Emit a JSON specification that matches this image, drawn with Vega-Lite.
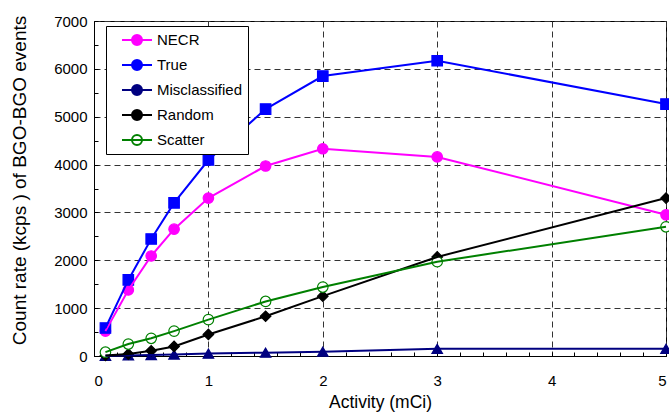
{
  "$schema": "https://vega.github.io/schema/vega-lite/v6.json",
  "width": 572,
  "height": 335,
  "autosize": {"type": "none"},
  "padding": {"left": 94, "top": 21, "right": 3, "bottom": 56},
  "background": "white",
  "config": {
    "font": "Liberation Sans",
    "view": {"stroke": "black", "strokeWidth": 1},
    "axis": {
      "domainColor": "black",
      "tickColor": "black",
      "tickSize": -4,
      "labelColor": "black",
      "titleColor": "black",
      "labelFontSize": 15,
      "titleFontWeight": "normal",
      "gridColor": "#333333",
      "gridDash": [6, 4],
      "gridWidth": 1
    },
    "legend": {
      "orient": "none",
      "legendX": 12,
      "legendY": 5,
      "padding": 5,
      "strokeColor": "black",
      "fillColor": "white",
      "labelFontSize": 15,
      "labelColor": "black",
      "symbolSize": 256,
      "symbolStrokeWidth": 2,
      "rowPadding": 7,
      "labelOffset": 28
    }
  },
  "data": {
    "values": [
      {"activity": 0.1, "series": "NECR", "rate": 520},
      {"activity": 0.3, "series": "NECR", "rate": 1380},
      {"activity": 0.5, "series": "NECR", "rate": 2090},
      {"activity": 0.7, "series": "NECR", "rate": 2650},
      {"activity": 1.0, "series": "NECR", "rate": 3300},
      {"activity": 1.5, "series": "NECR", "rate": 3970},
      {"activity": 2.0, "series": "NECR", "rate": 4330},
      {"activity": 3.0, "series": "NECR", "rate": 4160},
      {"activity": 5.0, "series": "NECR", "rate": 2950},
      {"activity": 0.1, "series": "True", "rate": 585},
      {"activity": 0.3, "series": "True", "rate": 1590},
      {"activity": 0.5, "series": "True", "rate": 2445},
      {"activity": 0.7, "series": "True", "rate": 3200},
      {"activity": 1.0, "series": "True", "rate": 4095},
      {"activity": 1.5, "series": "True", "rate": 5160},
      {"activity": 2.0, "series": "True", "rate": 5850},
      {"activity": 3.0, "series": "True", "rate": 6170},
      {"activity": 5.0, "series": "True", "rate": 5265},
      {"activity": 0.1, "series": "Misclassified", "rate": 5},
      {"activity": 0.3, "series": "Misclassified", "rate": 12},
      {"activity": 0.5, "series": "Misclassified", "rate": 20},
      {"activity": 0.7, "series": "Misclassified", "rate": 30},
      {"activity": 1.0, "series": "Misclassified", "rate": 50},
      {"activity": 1.5, "series": "Misclassified", "rate": 70},
      {"activity": 2.0, "series": "Misclassified", "rate": 90},
      {"activity": 3.0, "series": "Misclassified", "rate": 150},
      {"activity": 5.0, "series": "Misclassified", "rate": 150},
      {"activity": 0.1, "series": "Random", "rate": 10},
      {"activity": 0.3, "series": "Random", "rate": 40},
      {"activity": 0.5, "series": "Random", "rate": 110},
      {"activity": 0.7, "series": "Random", "rate": 200},
      {"activity": 1.0, "series": "Random", "rate": 450},
      {"activity": 1.5, "series": "Random", "rate": 830},
      {"activity": 2.0, "series": "Random", "rate": 1250},
      {"activity": 3.0, "series": "Random", "rate": 2070},
      {"activity": 5.0, "series": "Random", "rate": 3300},
      {"activity": 0.1, "series": "Scatter", "rate": 80},
      {"activity": 0.3, "series": "Scatter", "rate": 250},
      {"activity": 0.5, "series": "Scatter", "rate": 370},
      {"activity": 0.7, "series": "Scatter", "rate": 520},
      {"activity": 1.0, "series": "Scatter", "rate": 760},
      {"activity": 1.5, "series": "Scatter", "rate": 1140},
      {"activity": 2.0, "series": "Scatter", "rate": 1440},
      {"activity": 3.0, "series": "Scatter", "rate": 1970},
      {"activity": 5.0, "series": "Scatter", "rate": 2700}
    ]
  },
  "encoding": {
    "x": {
      "field": "activity",
      "type": "quantitative",
      "title": "Activity (mCi)",
      "scale": {"domain": [0, 5], "nice": false, "zero": false},
      "axis": {
        "values": [0, 0.2, 0.4, 0.6, 0.8, 1, 1.2, 1.4, 1.6, 1.8, 2, 2.2, 2.4, 2.6, 2.8, 3, 3.2, 3.4, 3.6, 3.8, 4, 4.2, 4.4, 4.6, 4.8, 5],
        "labelExpr": "abs(datum.value - round(datum.value)) < 0.001 ? format(datum.value, 'd') : ''",
        "grid": true,
        "gridOpacity": {"condition": {"test": "abs(datum.value - round(datum.value)) < 0.001", "value": 1}, "value": 0},
        "labelPadding": 21,
        "titlePadding": 5,
        "titleFontSize": 17.5
      }
    },
    "y": {
      "field": "rate",
      "type": "quantitative",
      "title": "Count rate (kcps ) of BGO-BGO events",
      "scale": {"domain": [0, 7000], "nice": false},
      "axis": {
        "values": [0, 500, 1000, 1500, 2000, 2500, 3000, 3500, 4000, 4500, 5000, 5500, 6000, 6500, 7000],
        "labelExpr": "datum.value % 1000 === 0 ? format(datum.value, 'd') : ''",
        "grid": true,
        "gridOpacity": {"condition": {"test": "datum.value % 1000 === 0", "value": 1}, "value": 0},
        "labelPadding": 11,
        "titlePadding": 24,
        "titleFontSize": 19,
        "titleY": 159
      }
    }
  },
  "layer": [
    {
      "mark": {
        "type": "point",
        "filled": false,
        "opacity": 1,
        "strokeWidth": 1.2,
        "size": 110,
        "shape": {"expr": "datum.series === 'True' ? 'square' : datum.series === 'Misclassified' ? 'triangle-up' : datum.series === 'Random' ? 'diamond' : 'circle'"}
      },
      "encoding": {
        "stroke": {
          "field": "series",
          "type": "nominal",
          "scale": {"domain": ["NECR", "True", "Misclassified", "Random", "Scatter"], "range": ["#ff00ff", "#0000ff", "#000080", "#000000", "#008000"]},
          "legend": {
            "title": null,
            "symbolType": "M0.25,0H4M1.5,0A0.625,0.625 0 1,0 2.75,0A0.625,0.625 0 1,0 1.5,0"
          }
        },
        "fill": {
          "field": "series",
          "type": "nominal",
          "scale": {"domain": ["NECR", "True", "Misclassified", "Random", "Scatter"], "range": ["#ff00ff", "#0000ff", "#000080", "#000000", "#ffffff"]},
          "legend": {"title": null}
        }
      }
    },
    {
      "mark": {"type": "line", "strokeWidth": 2},
      "encoding": {
        "stroke": {
          "field": "series",
          "type": "nominal",
          "scale": {"domain": ["NECR", "True", "Misclassified", "Random", "Scatter"], "range": ["#ff00ff", "#0000ff", "#000080", "#000000", "#008000"]},
          "legend": {"title": null}
        }
      }
    }
  ]
}
